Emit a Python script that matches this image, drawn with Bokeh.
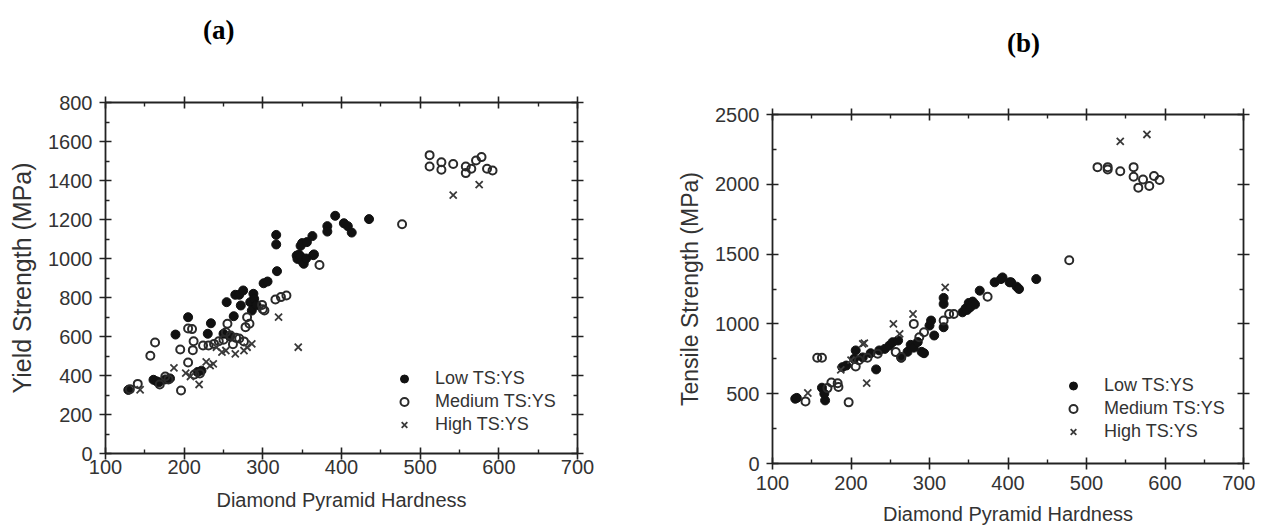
from bokeh.plotting import figure
from bokeh.layouts import row, column
from bokeh.models import Range1d, LinearAxis, Legend, LegendItem, FixedTicker, Div
from bokeh.embed import file_html
from bokeh.resources import INLINE

# ---------------- data: panel (a) yield strength ----------------
lowA_x = [129, 161, 165, 168, 176, 182, 189, 205, 217, 222, 230, 234, 250, 254, 258, 263, 265, 270,
          272, 275, 284, 286, 288, 289, 292, 301, 306, 317, 317, 318, 343, 344, 346, 348, 348, 350,
          350, 352, 355, 356, 363, 364, 365, 382, 382, 392, 403, 408, 413, 435]
lowA_y = [326, 378, 370, 365, 380, 385, 610, 699, 418, 425, 614, 668, 614, 776, 600, 704, 814, 814,
          759, 836, 776, 733, 819, 793, 760, 873, 882, 1121, 1072, 935, 1015, 998, 1020, 1010, 1065, 985,
          1079, 973, 1000, 1084, 1115, 1017, 1021, 1166, 1138, 1219, 1181, 1166, 1133, 1202]
medA_x = [131, 141, 157, 163, 169, 176, 180, 195, 196, 205, 205, 210, 211, 212, 213, 220, 224, 231,
          238, 244, 250, 253, 255, 259, 262, 266, 270, 276, 278, 280, 283, 299, 300, 302, 316, 323,
          330, 372, 477, 512, 512, 527, 527, 542, 558, 558, 565, 571, 578, 585, 592]
medA_y = [330, 357, 501, 569, 354, 395, 380, 533, 323, 467, 641, 638, 530, 576, 405, 410, 554, 554,
          562, 576, 583, 622, 665, 605, 560, 593, 590, 575, 648, 699, 665, 762, 740, 733, 790, 802,
          810, 967, 1176, 1530, 1472, 1494, 1455, 1485, 1472, 1438, 1460, 1503, 1520, 1460, 1451]
highA_x = [144, 187, 202, 208, 219, 228, 233, 237, 241, 248, 253, 265, 276, 280, 286, 320, 345, 542, 575]
highA_y = [327, 439, 412, 395, 354, 470, 451, 460, 545, 520, 528, 511, 528, 545, 562, 699, 545, 1325, 1379]

# ---------------- data: panel (b) tensile strength ----------------
lowB_x = [129, 131, 163, 167, 166, 189, 194, 204, 206, 215, 225, 232, 236, 243, 249, 253, 260, 264,
          272, 276, 280, 285, 290, 293, 300, 302, 306, 318, 318, 318, 342, 346, 348, 350, 352, 355,
          358, 364, 383, 391, 393, 402, 404, 411, 414, 436]
lowB_y = [464, 470, 543, 452, 500, 690, 702, 750, 810, 760, 790, 674, 810, 821, 845, 869, 881, 757,
          800, 850, 830, 870, 800, 790, 988, 1024, 917, 976, 1143, 1186, 1083, 1110, 1100, 1150, 1120, 1160,
          1140, 1238, 1298, 1321, 1333, 1298, 1298, 1267, 1250, 1321]
medB_x = [142, 157, 163, 170, 175, 183, 184, 197, 206, 210, 221, 234, 257, 264, 280, 287, 293, 318,
          325, 331, 374, 478, 514, 527, 527, 543, 560, 560, 566, 572, 580, 586, 593]
medB_y = [445, 757, 757, 540, 580, 575, 548, 438, 695, 740, 757, 786, 798, 762, 1000, 905, 940, 1024,
          1071, 1071, 1195, 1456, 2123, 2123, 2106, 2093, 2123, 2054, 1976, 2035, 1988, 2059, 2031]
highB_x = [145, 187, 200, 215, 217, 220, 254, 262, 279, 320, 543, 577]
highB_y = [505, 671, 740, 857, 862, 576, 1000, 929, 1071, 1262, 2307, 2357]

x_ticks = [100, 200, 300, 400, 500, 600, 700]
x_minor = [150, 250, 350, 450, 550, 650]
yA_ticks = [0, 200, 400, 600, 800, 1000, 1200, 1400, 1600, 1800]
yA_minor = [100, 300, 500, 700, 900, 1100, 1300, 1500, 1700]
yA_overrides = {1800: "800"}
yB_ticks = [0, 500, 1000, 1500, 2000, 2500]
yB_minor = [250, 750, 1250, 1750, 2250]
legend_labels = ["Low TS:YS", "Medium TS:YS", "High TS:YS"]
x_title = "Diamond Pyramid Hardness"
panel_titles = ["(a)", "(b)"]

FONT = "Liberation Sans"
TXT = "#333333"
AX = "#222222"


def style_axis(ax, ticker, labels=True, overrides=None, tick_font="20px"):
    ax.ticker = ticker
    ax.axis_line_color = AX
    ax.axis_line_width = 1.8
    ax.major_tick_line_color = AX
    ax.major_tick_line_width = 1.6
    ax.minor_tick_line_color = AX
    ax.minor_tick_line_width = 1.4
    ax.major_tick_in = 6
    ax.major_tick_out = 6
    ax.minor_tick_in = 4
    ax.minor_tick_out = 0
    ax.major_label_text_font = FONT
    ax.major_label_text_font_size = tick_font
    ax.major_label_text_color = TXT if labels else None
    if overrides:
        ax.major_label_overrides = overrides


def make_panel(lx, ly, mx, my, hx, hy, y_end, yt, ym, ylab, ovr, fl, ft, fr, fb,
               fw, fh, tick_std_x, lab_std_x, leg_loc, ylab_size):
    p = figure(frame_width=fw, frame_height=fh, x_range=Range1d(100, 700),
               y_range=Range1d(0, y_end), output_backend="svg", toolbar_location=None,
               title=None,
               min_border_left=fl, min_border_top=ft, min_border_right=fr,
               min_border_bottom=fb, background_fill_color="white",
               border_fill_color="white")
    p.outline_line_color = None
    p.xgrid.visible = False
    p.ygrid.visible = False

    xt = FixedTicker(ticks=x_ticks, minor_ticks=x_minor)
    ytk = FixedTicker(ticks=yt, minor_ticks=ym)
    style_axis(p.xaxis[0], xt)
    style_axis(p.yaxis[0], ytk, overrides=ovr)
    p.xaxis[0].major_label_standoff = tick_std_x
    p.xaxis[0].axis_label = x_title
    p.xaxis[0].axis_label_text_font = FONT
    p.xaxis[0].axis_label_text_font_size = "20px"
    p.xaxis[0].axis_label_text_font_style = "normal"
    p.xaxis[0].axis_label_text_color = TXT
    p.xaxis[0].axis_label_standoff = lab_std_x
    p.yaxis[0].major_label_standoff = 7
    p.yaxis[0].axis_label = ylab
    p.yaxis[0].axis_label_text_font = FONT
    p.yaxis[0].axis_label_text_font_size = ylab_size
    p.yaxis[0].axis_label_text_font_style = "normal"
    p.yaxis[0].axis_label_text_color = TXT
    p.yaxis[0].axis_label_standoff = 9

    top = LinearAxis()
    style_axis(top, FixedTicker(ticks=x_ticks, minor_ticks=x_minor), labels=False)
    top.major_label_text_font_size = "1px"
    top.major_label_standoff = 0
    p.add_layout(top, "above")
    right = LinearAxis()
    style_axis(right, FixedTicker(ticks=yt, minor_ticks=ym), labels=False)
    right.major_label_text_font_size = "1px"
    right.major_label_standoff = 0
    p.add_layout(right, "right")

    r_low = p.scatter(lx, ly, marker="circle", size=9, fill_color="#111111",
                      line_color="#111111", line_width=1)
    r_med = p.scatter(mx, my, marker="circle", size=8, fill_color=None,
                      line_color="#2a2a2a", line_width=2)
    r_high = p.scatter(hx, hy, marker="x", size=10, line_color="#3a3a3a", line_width=1.8)

    leg = Legend(items=[LegendItem(label=legend_labels[0], renderers=[r_low]),
                        LegendItem(label=legend_labels[1], renderers=[r_med]),
                        LegendItem(label=legend_labels[2], renderers=[r_high])],
                 location=leg_loc, glyph_width=20, glyph_height=23, label_height=23,
                 label_standoff=21, spacing=0, padding=0, margin=0,
                 border_line_color=None, background_fill_alpha=0,
                 label_text_font=FONT, label_text_font_size="18px",
                 label_text_color=TXT)
    p.add_layout(leg, "center")
    return p


def title_div(text, width, height, left):
    html = ('<div style="padding-left:%dpx;font-family:\'Liberation Serif\';font-weight:bold;'
            'font-size:27px;line-height:%dpx;color:#000;white-space:nowrap">%s</div>'
            % (left, height, text))
    return Div(text=html, width=width, height=height, margin=(0, 0, 0, 0))


pa = make_panel(lowA_x, lowA_y, medA_x, medA_y, highA_x, highA_y, 1800, yA_ticks, yA_minor,
                "Yield Strength (MPa)", yA_overrides, 105, 42, 40, 72, 472, 351,
                0, 12, (289, 17), "25px")
pb = make_panel(lowB_x, lowB_y, medB_x, medB_y, highB_x, highB_y, 2500, yB_ticks, yB_minor,
                "Tensile Strength (MPa)", None, 155, 28, 12, 65, 471, 349,
                6, 10, (291, 20), "23px")

col_a = column(title_div(panel_titles[0], 617, 60, 203), pa)
col_b = column(title_div(panel_titles[1], 638, 86, 390), pb)
layout = row(col_a, col_b)
open("out.html", "w").write(file_html(layout, INLINE))
